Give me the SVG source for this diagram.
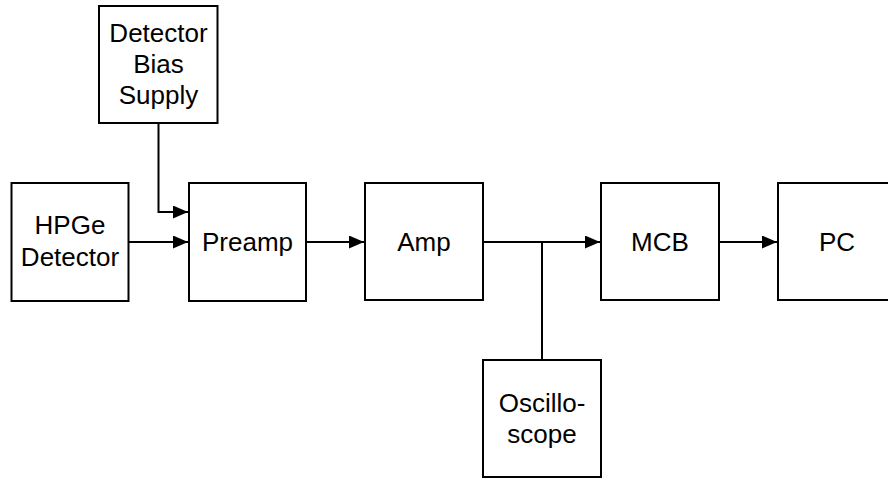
<svg xmlns="http://www.w3.org/2000/svg" width="888" height="480" viewBox="0 0 888 480">
<style>
.box{fill:#fff;stroke:#000;stroke-width:2}
.ln{fill:none;stroke:#000;stroke-width:2}
text{font-family:"Liberation Sans",Arial,sans-serif;font-size:26px;fill:#000;text-anchor:middle}
</style>
<defs>
<marker id="ah" markerUnits="userSpaceOnUse" markerWidth="15" markerHeight="13" refX="15" refY="6.5" orient="auto">
<path d="M0,0 L15,6.5 L0,13 Z" fill="#000"/>
</marker>
</defs>
<rect width="888" height="480" fill="#fff"/>
<g id="connectors">
<path class="ln" d="M158.5,123 V212 H188" marker-end="url(#ah)"/>
<path class="ln" d="M129,242 H188" marker-end="url(#ah)"/>
<path class="ln" d="M306,242 H364" marker-end="url(#ah)"/>
<path class="ln" d="M483,242 H600" marker-end="url(#ah)"/>
<path class="ln" d="M542,242 V360"/>
<path class="ln" d="M719,242 H777" marker-end="url(#ah)"/>
</g>
<g id="bias"><rect class="box" x="99" y="6" width="118.5" height="117"/>
<text x="158.5" y="42">Detector</text><text x="158.5" y="73">Bias</text><text x="158.5" y="104">Supply</text></g>
<g id="hpge"><rect class="box" x="11.5" y="183" width="117" height="118"/>
<text x="70" y="234">HPGe</text><text x="70" y="265.5">Detector</text></g>
<g id="preamp"><rect class="box" x="189" y="183" width="117" height="118"/>
<text x="247.5" y="250.5">Preamp</text></g>
<g id="amp"><rect class="box" x="365" y="183" width="118" height="117"/>
<text x="424" y="251">Amp</text></g>
<g id="mcb"><rect class="box" x="601" y="183" width="118" height="117"/>
<text x="660" y="251">MCB</text></g>
<g id="pc"><rect class="box" x="778" y="183" width="118" height="117"/>
<text x="837" y="251">PC</text></g>
<g id="osc"><rect class="box" x="483" y="360" width="118" height="117"/>
<text x="542" y="411.5">Oscillo-</text><text x="542" y="442.5">scope</text></g>
</svg>
